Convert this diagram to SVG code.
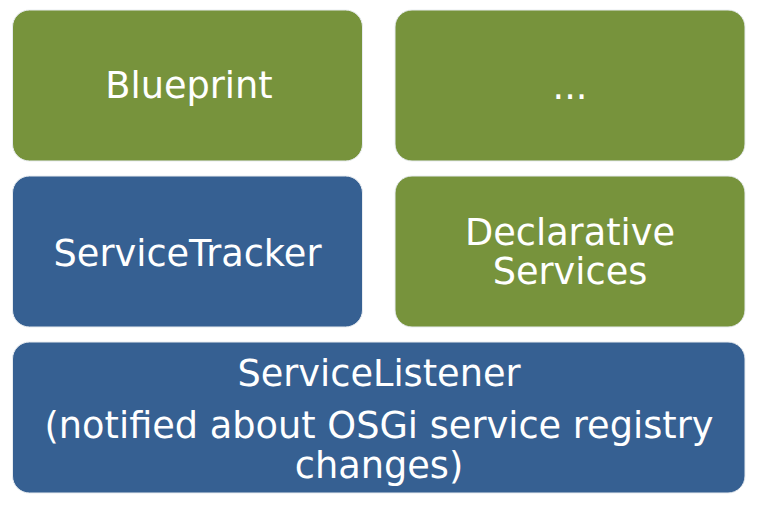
<svg xmlns="http://www.w3.org/2000/svg" width="767" height="512" viewBox="0 0 767 512">
<style>
.box{stroke:#e8ecf0;stroke-width:1}
.g{fill:#77933C}
.b{fill:#366092}
text{font-family:"DejaVu Sans",Verdana,sans-serif;font-size:36.7px;fill:#ffffff;text-anchor:middle}
</style>
<rect width="767" height="512" fill="#ffffff"/>
<g id="blueprint">
<rect class="box g" x="12.5" y="10" width="350" height="151" rx="17"/>
<text x="189" y="98">Blueprint</text>
</g>
<g id="ellipsis">
<rect class="box g" x="395" y="10" width="350" height="151" rx="17"/>
<text x="570" y="99">...</text>
</g>
<g id="servicetracker">
<rect class="box b" x="12.5" y="176" width="350" height="151" rx="17"/>
<text x="187.5" y="266">ServiceTracker</text>
</g>
<g id="declarative">
<rect class="box g" x="395" y="176" width="350" height="151" rx="17"/>
<text x="570" y="245">Declarative</text>
<text x="570" y="284">Services</text>
</g>
<g id="servicelistener">
<rect class="box b" x="12.5" y="342" width="732.5" height="151" rx="17"/>
<text x="379" y="386">ServiceListener</text>
<text x="379" y="438">(notified about OSGi service registry</text>
<text x="379" y="478">changes)</text>
</g>
<g id="connectors"></g>
</svg>
